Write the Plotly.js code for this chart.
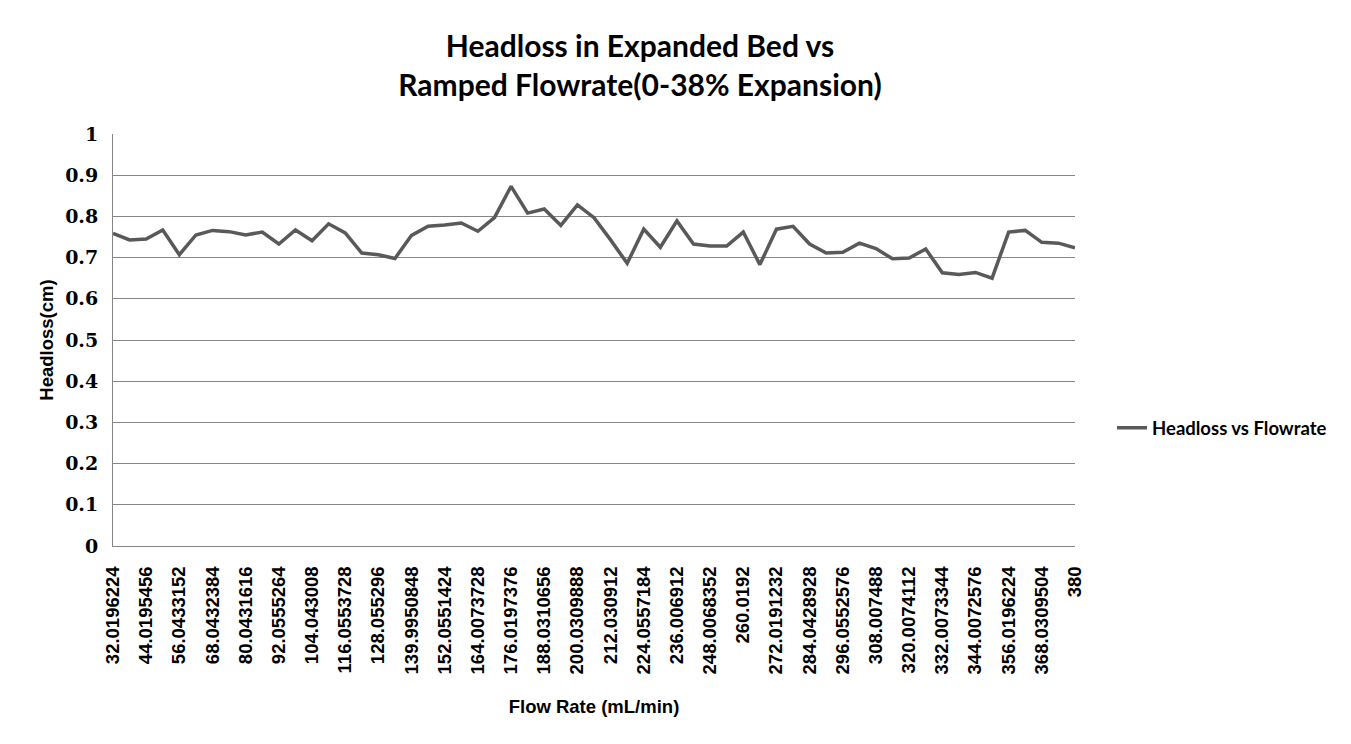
<!DOCTYPE html>
<html>
<head>
<meta charset="utf-8">
<script src="https://cdn.plot.ly/plotly-3.0.1.min.js"></script>
<style>
  html, body { margin: 0; padding: 0; background: #fff; }
  #chart { width: 1351px; height: 744px; }
</style>
</head>
<body>
<div id="chart"></div>
<script>
// flow rate categories (mL/min); odd entries are not labelled on the chart
var flowRate = [
  "32.0196224", "38.019584", "44.0195456", "50.0314304", "56.0433152",
  "62.0432768", "68.0432384", "74.0432", "80.0431616", "86.049344",
  "92.0555264", "98.0492672", "104.043008", "110.0491904", "116.0553728",
  "122.0553344", "128.055296", "134.0251904", "139.9950848", "146.0251136",
  "152.0551424", "158.0312576", "164.0073728", "170.0135552", "176.0197376",
  "182.0254016", "188.0310656", "194.0310272", "200.0309888", "206.0309504",
  "212.030912", "218.0433152", "224.0557184", "230.0313152", "236.006912",
  "242.0068736", "248.0068352", "254.0130176", "260.0192", "266.0191616",
  "272.0191232", "278.031008", "284.0428928", "290.0490752", "296.0552576",
  "302.0313728", "308.007488", "314.0074496", "320.0074112", "326.0073728",
  "332.0073344", "338.007296", "344.0072576", "350.01344", "356.0196224",
  "362.0252864", "368.0309504", "374.0154752", "380"
];

var headloss = [
  0.759, 0.743, 0.745, 0.767, 0.707, 0.755, 0.766, 0.763, 0.755, 0.762,
  0.733, 0.767, 0.741, 0.782, 0.760, 0.711, 0.707, 0.698, 0.754, 0.776,
  0.779, 0.784, 0.764, 0.797, 0.873, 0.808, 0.818, 0.778, 0.828, 0.797,
  0.743, 0.686, 0.769, 0.725, 0.789, 0.733, 0.728, 0.728, 0.762, 0.683,
  0.769, 0.776, 0.733, 0.711, 0.713, 0.735, 0.722, 0.697, 0.699, 0.721,
  0.663, 0.659, 0.664, 0.650, 0.762, 0.766, 0.737, 0.735, 0.724
];

// labels shown under the axis (every second category)
var tickLabels = [
  "32.0196224", "44.0195456", "56.0433152", "68.0432384", "80.0431616",
  "92.0555264", "104.043008", "116.0553728", "128.055296", "139.9950848",
  "152.0551424", "164.0073728", "176.0197376", "188.0310656", "200.0309888",
  "212.030912", "224.0557184", "236.006912", "248.0068352", "260.0192",
  "272.0191232", "284.0428928", "296.0552576", "308.007488", "320.0074112",
  "332.0073344", "344.0072576", "356.0196224", "368.0309504", "380"
];

var yTicks = [0, 0.1, 0.2, 0.3, 0.4, 0.5, 0.6, 0.7, 0.8, 0.9, 1];
var yTickText = ["0", "0.1", "0.2", "0.3", "0.4", "0.5", "0.6", "0.7", "0.8", "0.9", "1"];

var trace1 = {
  x: flowRate,
  y: headloss,
  type: 'scatter',
  mode: 'lines',
  name: 'Headloss vs Flowrate',
  line: { color: '#595959', width: 3.5 }
};

var layout = {
  width: 1351,
  height: 744,
  paper_bgcolor: '#ffffff',
  plot_bgcolor: '#ffffff',
  margin: { l: 113, r: 276, t: 134, b: 198, pad: 0 },
  title: {
    text: 'Headloss in Expanded Bed vs<br>Ramped Flowrate(0-38% Expansion)',
    font: { family: 'Lato', size: 30, color: '#000', weight: 'bold' },
    x: 0.4737,
    xanchor: 'center',
    y: 0.924,
    yanchor: 'middle'
  },
  xaxis: {
    type: 'category',
    tickmode: 'array',
    tickvals: tickLabels,
    ticktext: tickLabels,
    tickangle: -90,
    tickfont: { family: 'Liberation Sans', size: 18.5, color: '#000', weight: 'bold' },
    ticks: '',
    ticklabelstandoff: 12,
    showgrid: false,
    showline: true,
    linecolor: '#868686',
    linewidth: 1,
    zeroline: false,
    automargin: false,
    title: {
      text: 'Flow Rate (mL/min)',
      font: { family: 'Liberation Sans', size: 18.5, color: '#000', weight: 'bold' },
      standoff: 26
    },
    fixedrange: true
  },
  yaxis: {
    range: [0, 1],
    tickmode: 'array',
    tickvals: yTicks,
    ticktext: yTickText,
    tickfont: { family: 'DejaVu Serif', size: 19, color: '#000', weight: 'bold' },
    ticks: '',
    ticklabelstandoff: 10,
    showgrid: true,
    gridcolor: '#868686',
    gridwidth: 1,
    showline: true,
    linecolor: '#868686',
    linewidth: 1,
    zeroline: false,
    automargin: false,
    title: {
      text: 'Headloss(cm)',
      font: { family: 'Liberation Sans', size: 18.5, color: '#000', weight: 'bold' },
      standoff: 6
    },
    fixedrange: true
  },
  showlegend: true,
  legend: {
    x: 1.0385,
    y: 0.286,
    xanchor: 'left',
    yanchor: 'middle',
    bgcolor: 'rgba(0,0,0,0)',
    font: { family: 'Lato', size: 18.5, color: '#000', weight: 'bold' },
    itemwidth: 30
  }
};

var options = {
  displayModeBar: false,
  staticPlot: true
};

Plotly.newPlot('chart', [trace1], layout, options);
</script>
</body>
</html>
